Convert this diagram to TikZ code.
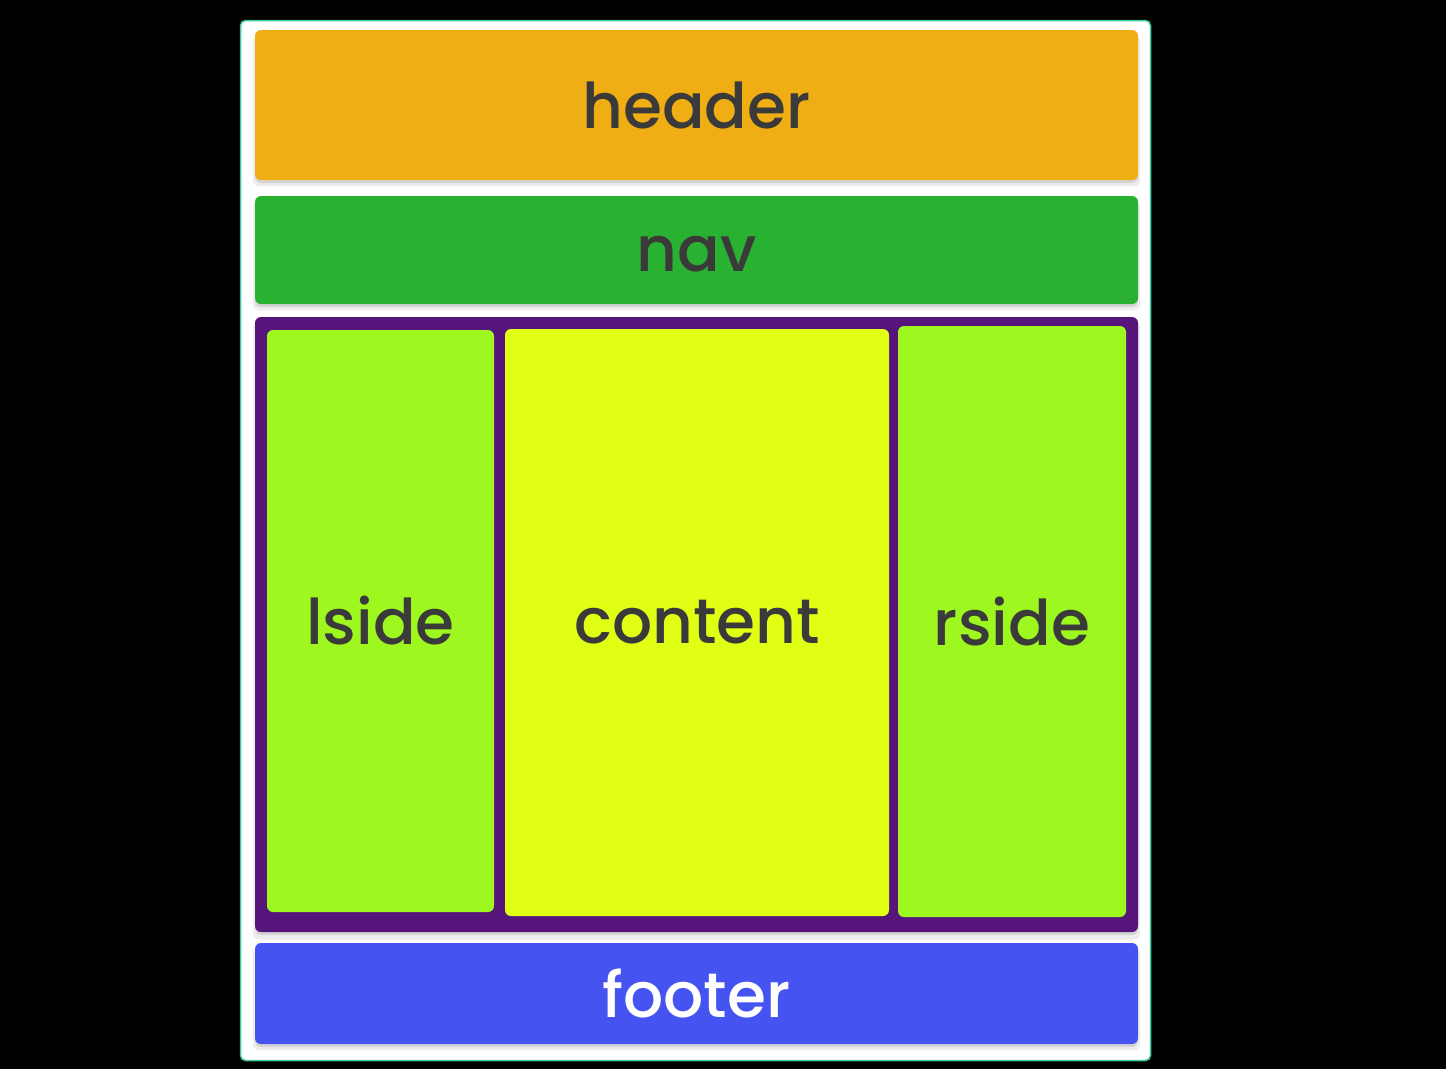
\documentclass[tikz,border=0pt]{standalone}
\usepackage{fontspec}
\setmainfont{Poppins}
\newfontfamily\medfont{Poppins Medium}
\usetikzlibrary{shadows}
\definecolor{hdr}{HTML}{EFAE14}
\definecolor{navc}{HTML}{29B132}
\definecolor{purp}{HTML}{55157A}
\definecolor{side}{HTML}{9EF81F}
\definecolor{cont}{HTML}{E0FF14}
\definecolor{foot}{HTML}{4553F1}
\definecolor{txt}{HTML}{3A3A3A}
\definecolor{edge}{HTML}{3CC9A0}
\tikzset{
  box/.style={rounded corners=6pt, inner sep=0pt, draw=none, font=\medfont\fontsize{63}{63}\selectfont, text=txt,
    drop shadow={shadow xshift=0pt, shadow yshift=-3pt, opacity=0.10, fill=black},
    drop shadow={shadow xshift=0pt, shadow yshift=-6pt, shadow scale=1.005, opacity=0.07, fill=black}},
  col/.style={rounded corners=6pt, inner sep=0pt, draw=none, font=\medfont\fontsize{63}{63}\selectfont, text=txt}
}
\begin{document}
\begin{tikzpicture}[x=1pt,y=-1pt]
\fill[black] (0,0) rectangle (1446,1069);
\useasboundingbox (0,0) rectangle (1446,1069);
\node[draw=edge, line width=1.5pt, fill=white, rounded corners=5pt, minimum width=910pt, minimum height=1040pt, inner sep=0pt] (page) at (695.5,540.5) {};
\node[box, fill=hdr, minimum width=883pt, minimum height=150pt] (header) at (696.5,105) {header};
\node[box, fill=navc, minimum width=883pt, minimum height=108pt] (nav) at (696.5,250) {};
\node[font=\medfont\fontsize{63}{63}\selectfont, text=txt, inner sep=0pt] (navtext) at (696.5,254) {nav};
\node[box, fill=purp, minimum width=883pt, minimum height=615pt] (main) at (696.5,624.5) {};
\node[col, fill=side, minimum width=227pt, minimum height=582pt] (lside) at (380.5,621) {lside};
\node[col, fill=cont, minimum width=384pt, minimum height=587pt] (content) at (697,622.5) {content};
\node[col, fill=side, minimum width=228pt, minimum height=591pt] (rside) at (1012,621.5) {rside};
\node[box, fill=foot, text=white, minimum width=883pt, minimum height=101pt] (footer) at (696.5,993.5) {footer};
\end{tikzpicture}
\end{document}
